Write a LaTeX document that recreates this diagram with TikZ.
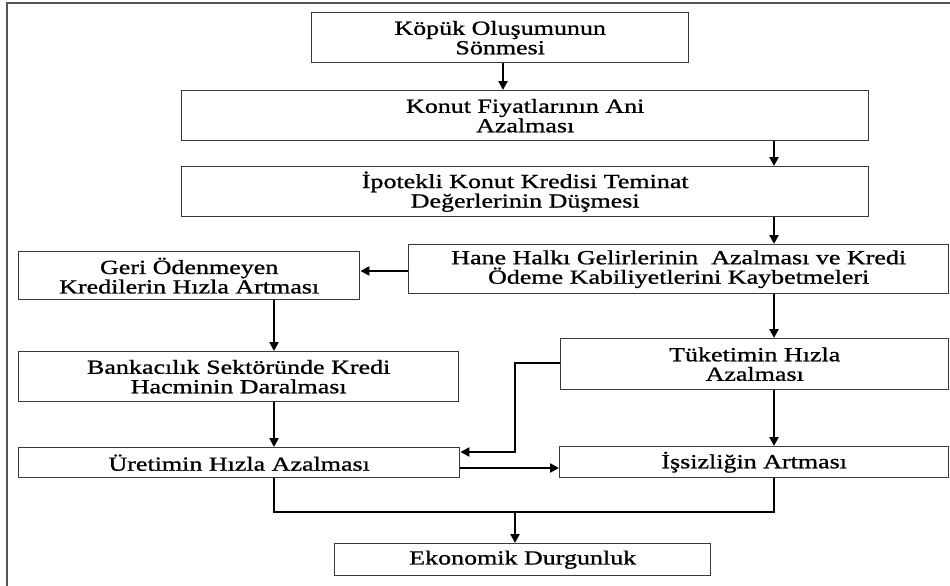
\documentclass[tikz,border=0pt]{standalone}
\usepackage{fontspec}
\setmainfont{Liberation Serif}[FakeStretch=1.3,FakeBold=1]
\usetikzlibrary{arrows.meta}
\definecolor{boxline}{HTML}{3A3A3A}
\definecolor{frameline}{HTML}{555555}
\begin{document}
\begin{tikzpicture}[x=1pt,y=-1pt,
  flowbox/.style={draw=boxline, line width=1.4pt, fill=white, align=center,
    inner sep=0pt, anchor=north west,
    font=\fontsize{20}{19.5}\selectfont},
  link/.style={line width=2.3pt, -{Triangle[length=9pt,width=9pt]}},
  plainlink/.style={line width=2.3pt}]
\useasboundingbox (0,0) rectangle (950,586);
% open frame: only the top and left sides fall inside the page
\draw[frameline, line width=1.8pt] (7,600) -- (7,3) -- (960,3);

% boxes
\node[flowbox, minimum width=377pt, minimum height=50pt] (kopuk) at (311,12)
  {Köpük Oluşumunun\\Sönmesi};
\node[flowbox, minimum width=687pt, minimum height=50pt] (fiyat) at (181,90)
  {Konut Fiyatlarının Ani\\Azalması};
\node[flowbox, minimum width=687pt, minimum height=50pt] (ipotek) at (181,166)
  {İpotekli Konut Kredisi Teminat\\Değerlerinin Düşmesi};
\node[flowbox, minimum width=540pt, minimum height=49pt] (hane) at (408,244)
  {Hane Halkı Gelirlerinin\ \ Azalması ve Kredi\\Ödeme Kabiliyetlerini Kaybetmeleri};
\node[flowbox, minimum width=341pt, minimum height=48pt] (geri) at (18,251)
  {Geri Ödenmeyen\\Kredilerin Hızla Artması};
\node[flowbox, minimum width=440pt, minimum height=50pt] (banka) at (18,351)
  {Bankacılık Sektöründe Kredi\\Hacminin Daralması};
\node[flowbox, minimum width=388pt, minimum height=51pt] (tuketim) at (560,338)
  {Tüketimin Hızla\\Azalması};
\node[flowbox, minimum width=441pt, minimum height=30pt] (uretim) at (18,447)
  {Üretimin Hızla Azalması};
\node[flowbox, minimum width=389pt, minimum height=31pt] (issiz) at (559,446)
  {İşsizliğin Artması};
\node[flowbox, minimum width=376pt, minimum height=32pt] (durgun) at (334,543)
  {Ekonomik Durgunluk};

% guide columns and rows for the connectors
\coordinate (colA) at (274,0);
\coordinate (colB) at (503,0);
\coordinate (colC) at (774,0);
\coordinate (colD) at (515,0);
\coordinate (rowH) at (0,271);
\coordinate (rowT) at (0,363);
\coordinate (rowU) at (0,452);
\coordinate (rowI) at (0,468);
\coordinate (rowE) at (0,512);

% connectors
\draw[link] (kopuk.south -| colB) -- (fiyat.north -| colB);
\draw[link] (fiyat.south -| colC) -- (ipotek.north -| colC);
\draw[link] (ipotek.south -| colC) -- (hane.north -| colC);
\draw[link] (hane.west |- rowH) -- (geri.east |- rowH);
\draw[link] (hane.south -| colC) -- (tuketim.north -| colC);
\draw[link] (geri.south -| colA) -- (banka.north -| colA);
\draw[link] (banka.south -| colA) -- (uretim.north -| colA);
\draw[link] (tuketim.south -| colC) -- (issiz.north -| colC);
\draw[link] (tuketim.west |- rowT) -| (colD |- rowU) -- (uretim.east |- rowU);
\draw[link] (uretim.east |- rowI) -- (issiz.west |- rowI);
\draw[plainlink] (uretim.south -| colA) -- (colA |- rowE) -- (colC |- rowE)
  -- (issiz.south -| colC);
\draw[link] (colD |- rowE) -- (durgun.north -| colD);
\end{tikzpicture}
\end{document}
